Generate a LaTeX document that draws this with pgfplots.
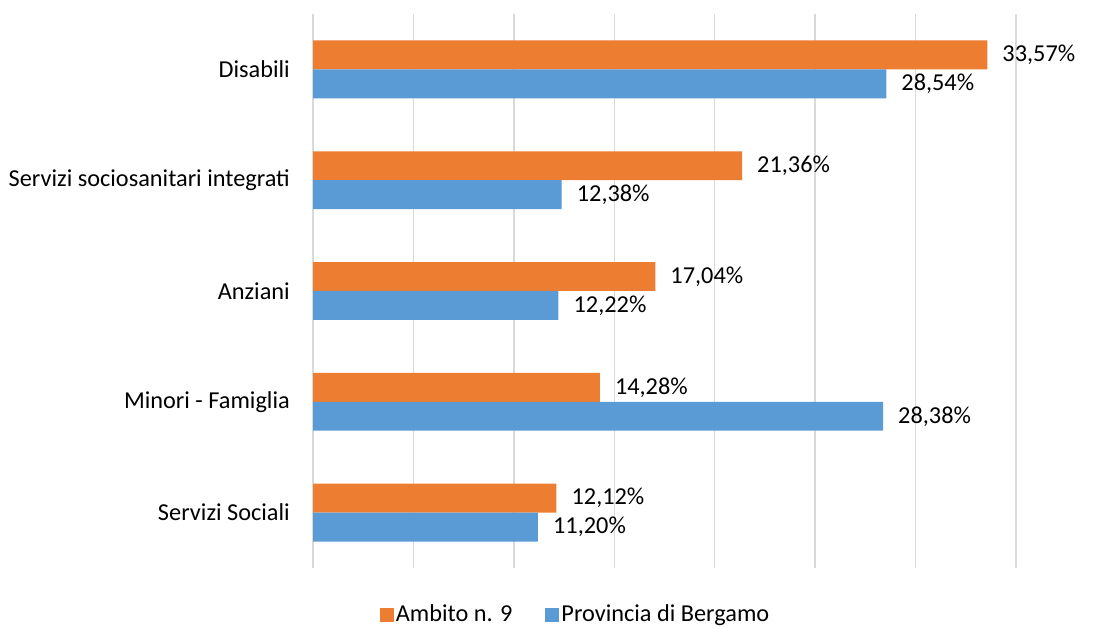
\documentclass[border=0pt]{standalone}
\usepackage{fontspec}
\setmainfont{Carlito}
\usepackage{pgfplots}
\usepackage{pgfplotstable}
\pgfplotsset{compat=1.18}
\definecolor{ambito}{HTML}{ED7D31}
\definecolor{prov}{HTML}{5B9BD5}
\definecolor{gridgray}{HTML}{D9D9D9}

% categories bottom to top: Servizi Sociali ... Disabili
\pgfplotstableread{
pos ambito prov labA labP
0 12.12 11.20 12,12 11,20
1 14.28 28.38 14,28 28,38
2 17.04 12.22 17,04 12,22
3 21.36 12.38 21,36 12,38
4 33.57 28.54 33,57 28,54
}\datatable

\begin{document}
\fontsize{24}{29}\selectfont
\begin{tikzpicture}
\path[use as bounding box] (0pt,0pt) rectangle (1102pt,628pt);
\begin{axis}[
  at={(313pt,60pt)}, anchor=south west,
  width=703pt, height=554pt, scale only axis,
  xbar, bar width=0.261,
  xmin=0, xmax=35, ymin=-0.5, ymax=4.5,
  xtick={0,5,...,35}, xticklabels={},
  ytick={0,1,2,3,4},
  yticklabels={Servizi Sociali, Minori - Famiglia, Anziani, Servizi sociosanitari integrati, Disabili},
  yticklabel style={anchor=east, inner sep=0pt, xshift=-23pt, font=\fontsize{24.3}{29}\selectfont},
  major tick length=0pt,
  xmajorgrids=true, ymajorgrids=false,
  major grid style={draw=gridgray, line width=1.5pt},
  axis line style={draw=none},
  clip=false,
  nodes near coords={\pgfplotspointmeta\%},
  point meta=explicit symbolic,
  nodes near coords style={anchor=west, inner sep=0pt, xshift=15pt, font=\fontsize{24.3}{29}\selectfont, black},
  legend columns=2,
  legend style={at={(axis description cs:0.3735,-0.084)}, anchor=center, draw=none, fill=none,
    font=\fontsize{24.3}{29}\selectfont, inner sep=0pt,
    nodes={inner sep=2pt},
    /tikz/every even column/.append style={column sep=31pt}},
  legend image code/.code={\fill[#1] (0pt,-7pt) rectangle (14pt,7pt);},
]
\addplot[fill=ambito, draw=none, bar shift=0.1305] table[y=pos, x=ambito, meta=labA] {\datatable};
\addlegendentry{Ambito n. 9}
\addplot[fill=prov, draw=none, bar shift=-0.1305] table[y=pos, x=prov, meta=labP] {\datatable};
\addlegendentry{Provincia di Bergamo}
\end{axis}
\end{tikzpicture}
\end{document}
